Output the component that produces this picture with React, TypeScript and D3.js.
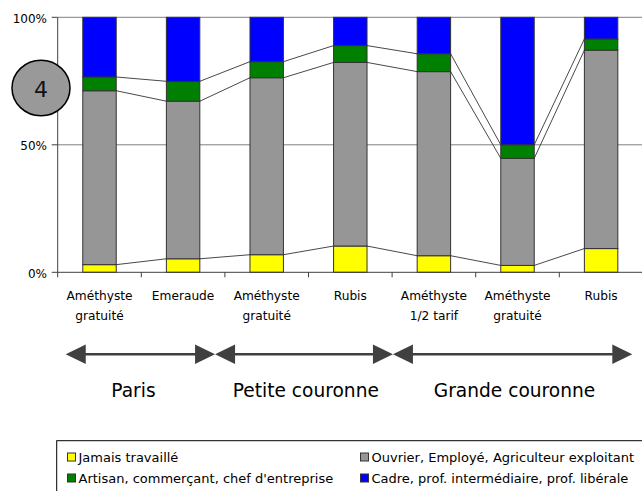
import React from "react";
import * as d3 from "d3";

const categories: string[][] = [
  ["Améthyste", "gratuité"],
  ["Emeraude"],
  ["Améthyste", "gratuité"],
  ["Rubis"],
  ["Améthyste", "1/2 tarif"],
  ["Améthyste", "gratuité"],
  ["Rubis"],
];

const jamais = [3.0, 5.3, 6.9, 10.3, 6.5, 2.7, 9.3];
const ouvrier = [68.2, 61.8, 69.4, 72.0, 72.2, 42.0, 77.8];
const artisan = [5.4, 7.8, 6.3, 6.6, 7.0, 5.3, 4.4];
const cadre = [23.4, 25.1, 17.4, 11.1, 14.3, 50.0, 8.5];

const seriesNames = [
  "Jamais travaillé",
  "Ouvrier, Employé, Agriculteur exploitant",
  "Artisan, commerçant, chef d'entreprise",
  "Cadre, prof. intermédiaire, prof. libérale",
];
const seriesColors = ["#FFFF00", "#969696", "#008000", "#0000FF"];

const yTicks = [0, 50, 100];

// groups in category units (0 = left edge of first category)
const groups = [
  { label: "Paris", start: 0.096, end: 1.882, center: 0.906 },
  { label: "Petite couronne", start: 1.882, end: 4.01, center: 2.968 },
  { label: "Grande couronne", start: 4.01, end: 6.873, center: 5.464 },
];

const badge = "4";

const W = 642;
const H = 491;
const left = 57.7;
const bandW = 83.6;
const yTop = 17.3;
const yBottom = 272.3;
const font = "DejaVu Sans";

export default function App() {
  const values = [jamais, ouvrier, artisan, cadre];
  const idx = categories.map((_, i) => i);
  const x = d3
    .scaleBand<number>()
    .domain(idx)
    .range([left, left + bandW * categories.length])
    .paddingInner(0)
    .paddingOuter(0);
  const unit = d3
    .scaleLinear()
    .domain([0, categories.length])
    .range([left, left + bandW * categories.length]);
  const y = d3.scaleLinear().domain([0, 100]).range([yBottom, yTop]);
  const bw = x.bandwidth() * 0.4;
  const barX = (i: number) => (x(i) as number) + (x.bandwidth() - bw) / 2;

  const stacks = d3
    .stack<number>()
    .keys(["0", "1", "2", "3"])
    .value((i, k) => values[+k][i])(idx);

  const seriesLines: JSX.Element[] = [];
  for (let s = 0; s < 3; s++) {
    for (let i = 0; i < idx.length - 1; i++) {
      seriesLines.push(
        <line
          key={`sl-${s}-${i}`}
          x1={barX(i) + bw}
          y1={y(stacks[s][i][1])}
          x2={barX(i + 1)}
          y2={y(stacks[s][i + 1][1])}
          stroke="#333"
          strokeWidth={0.9}
        />
      );
    }
  }

  const arrowY = 354.3;
  const headL = 20;
  const headH = 9.7;
  const arrowColor = "#404040";

  return (
    <svg
      width={W}
      height={H}
      style={{ position: "absolute", left: 0, top: 0, background: "#fff" }}
      fontFamily={font}
    >
      <rect x={0} y={0} width={W} height={H} fill="#fff" />
      {/* gridlines */}
      {yTicks
        .filter((t) => t > 0)
        .map((t) => (
          <line
            key={`g${t}`}
            x1={left}
            x2={W}
            y1={y(t)}
            y2={y(t)}
            stroke="#808080"
            strokeWidth={1}
          />
        ))}
      {/* y axis */}
      <line x1={left} x2={left} y1={yTop} y2={yBottom + 5} stroke="#404040" strokeWidth={1} />
      {yTicks.map((t) => (
        <g key={`yt${t}`}>
          <line x1={left - 6} x2={left} y1={y(t)} y2={y(t)} stroke="#404040" strokeWidth={1} />
          <text
            x={47}
            y={y(t) + 5.5}
            textAnchor="end"
            fontSize={12}
            fill="#000"
          >
            {t}%
          </text>
        </g>
      ))}
      {/* series lines */}
      {seriesLines}
      {/* bars */}
      {stacks.map((layer, s) =>
        layer.map((d, i) => (
          <rect
            key={`b${s}-${i}`}
            x={barX(i)}
            y={y(d[1])}
            width={bw}
            height={y(d[0]) - y(d[1])}
            fill={seriesColors[s]}
            stroke="#333"
            strokeWidth={1}
          />
        ))
      )}
      {/* x axis */}
      <line x1={left} x2={W} y1={yBottom} y2={yBottom} stroke="#404040" strokeWidth={1} />
      {idx.slice(1).map((i) => (
        <line
          key={`xt${i}`}
          x1={x(i) as number}
          x2={x(i) as number}
          y1={yBottom}
          y2={yBottom + 5}
          stroke="#404040"
          strokeWidth={1}
        />
      ))}
      {/* category labels */}
      {categories.map((lines, i) => (
        <text
          key={`c${i}`}
          x={(x(i) as number) + x.bandwidth() / 2}
          textAnchor="middle"
          fontSize={12.2}
          fill="#000"
        >
          {lines.map((l, j) => (
            <tspan key={j} x={(x(i) as number) + x.bandwidth() / 2} y={300 + j * 19.5}>
              {l}
            </tspan>
          ))}
        </text>
      ))}
      {/* badge */}
      <ellipse cx={41} cy={88} rx={29} ry={27.8} fill="#999999" stroke="#000" strokeWidth={1.5} />
      <text x={41} y={96.5} textAnchor="middle" fontSize={22} fill="#111">
        {badge}
      </text>
      {/* group arrows */}
      {groups.map((g) => {
        const x1 = unit(g.start);
        const x2 = unit(g.end);
        return (
          <g key={g.label}>
            <line
              x1={x1 + 5}
              x2={x2 - 5}
              y1={arrowY}
              y2={arrowY}
              stroke={arrowColor}
              strokeWidth={2.5}
            />
            <polygon
              points={`${x1},${arrowY} ${x1 + headL},${arrowY - headH} ${x1 + headL},${arrowY + headH}`}
              fill={arrowColor}
            />
            <polygon
              points={`${x2},${arrowY} ${x2 - headL},${arrowY - headH} ${x2 - headL},${arrowY + headH}`}
              fill={arrowColor}
            />
            <text x={unit(g.center)} y={396.5} textAnchor="middle" fontSize={18.6} fill="#000">
              {g.label}
            </text>
          </g>
        );
      })}
      {/* legend */}
      <rect x={56.7} y={440.7} width={600} height={80} fill="#fff" stroke="#000" strokeWidth={1} />
      {seriesNames.map((name, s) => {
        const col = s === 0 || s === 2 ? 0 : 1;
        const row = s < 2 ? 0 : 1;
        const sx = col === 0 ? 67.5 : 360.5;
        const base = row === 0 ? 462 : 483;
        return (
          <g key={`l${s}`}>
            <rect
              x={sx}
              y={base - 9}
              width={8}
              height={8}
              fill={seriesColors[s]}
              stroke="#333"
              strokeWidth={1}
            />
            <text x={sx + 11} y={base} fontSize={13} fill="#000">
              {name}
            </text>
          </g>
        );
      })}
    </svg>
  );
}
